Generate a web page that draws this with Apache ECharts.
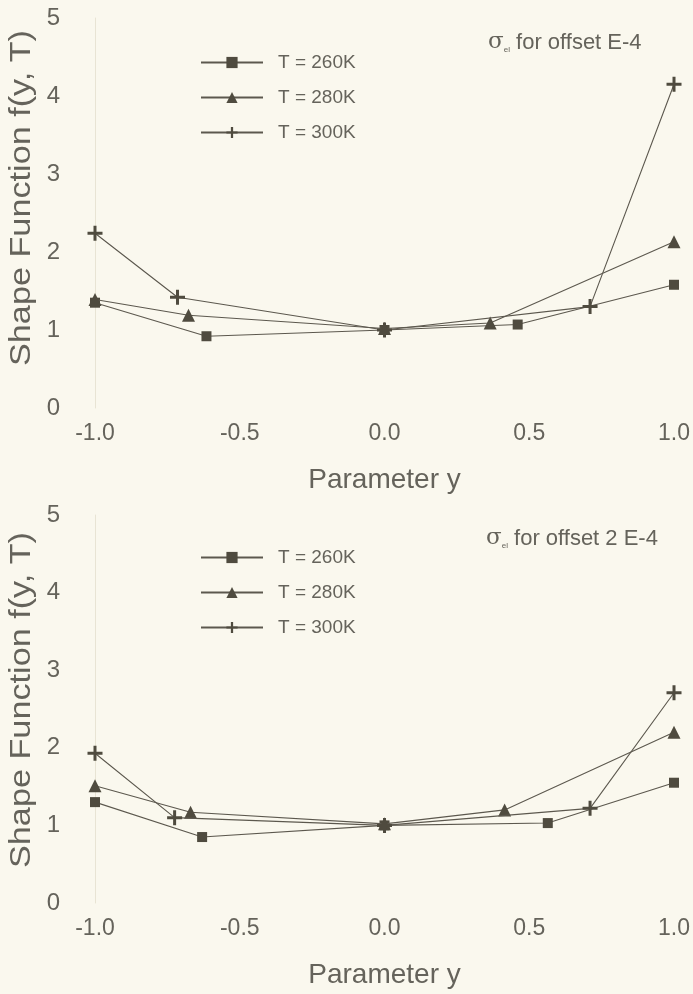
<!DOCTYPE html>
<html>
<head>
<meta charset="utf-8">
<script src="https://cdn.jsdelivr.net/npm/echarts@6/dist/echarts.min.js"></script>
<style>
  html, body { margin: 0; padding: 0; background: #faf8ee; }
  #chart { width: 693px; height: 994px; }
</style>
</head>
<body>
<div id="chart"></div>
<script>
// Shape function f(y,T) versus parameter y, for two offsets
const seriesNames = ['T = 260K', 'T = 280K', 'T = 300K'];
const xTicks = [-1.0, -0.5, 0.0, 0.5, 1.0];
const yTicks = [0, 1, 2, 3, 4, 5];

// offset E-4
const topY260 = [-1.0, -0.615, 0.0, 0.46, 1.0];
const topF260 = [1.35, 0.92, 1.0, 1.07, 1.58];
const topY280 = [-1.0, -0.677, 0.0, 0.365, 1.0];
const topF280 = [1.39, 1.19, 1.02, 1.09, 2.13];
const topY300 = [-1.0, -0.715, 0.0, 0.71, 1.0];
const topF300 = [2.24, 1.42, 1.0, 1.30, 4.15];

// offset 2 E-4
const botY260 = [-1.0, -0.63, 0.0, 0.564, 1.0];
const botF260 = [1.30, 0.85, 1.0, 1.03, 1.55];
const botY280 = [-1.0, -0.67, 0.0, 0.415, 1.0];
const botF280 = [1.51, 1.17, 1.02, 1.20, 2.20];
const botY300 = [-1.0, -0.725, 0.0, 0.71, 1.0];
const botF300 = [1.93, 1.10, 1.0, 1.22, 2.71];

const ink = '#5c584e';
const mark = '#4f4b3f';
const textCol = '#65635b';
const font = 'Liberation Sans';

const plusPath = 'path://M4,0H6V4H10V6H6V10H4V6H0V4H4Z';
const symbols = ['rect', 'triangle', plusPath];
const sizes = [10, 13, 15];

function pairs(xs, ys) { return xs.map((x, i) => [x, ys[i]]); }

function makeSeries(idx, name, xs, ys) {
  const k = seriesNames.indexOf(name);
  return {
    type: 'line', name: name, xAxisIndex: idx, yAxisIndex: idx,
    data: pairs(xs, ys),
    symbol: symbols[k], symbolSize: sizes[k], showSymbol: true,
    lineStyle: { color: ink, width: 1.1 },
    itemStyle: { color: mark, borderWidth: 0 },
    z: 3 + k, animation: false
  };
}

function xAxis(idx) {
  return {
    type: 'value', gridIndex: idx, min: -1, max: 1, interval: 0.5,
    axisLine: { show: false }, axisTick: { show: false }, splitLine: { show: false },
    axisLabel: {
      color: textCol, fontFamily: font, fontSize: 23, margin: 14,
      formatter: v => v.toFixed(1)
    },
    name: 'Parameter y', nameLocation: 'middle', nameGap: 58,
    nameTextStyle: { color: textCol, fontFamily: font, fontSize: 28 }
  };
}

function yAxis(idx) {
  return {
    type: 'value', gridIndex: idx, min: 0, max: 5, interval: 1,
    axisLine: { show: true, onZero: false, lineStyle: { color: '#e8e4d4', width: 1 } },
    axisTick: { show: false }, splitLine: { show: false },
    axisLabel: { color: textCol, fontFamily: font, fontSize: 24, margin: 35 }
  };
}

function legend(top) {
  return {
    orient: 'vertical', left: 195, top: top, itemWidth: 62, itemHeight: 14, itemGap: 16,
    data: seriesNames,
    textStyle: { color: textCol, fontFamily: font, fontSize: 19, padding: [0, 0, 0, 10] }
  };
}

// Curve annotation with a subscripted sigma
function note(text, x, y) {
  return {
    type: 'text', left: x, top: y,
    style: {
      text: '{s|σ}{sub|el} ' + text,
      fontFamily: font, fill: textCol, fontSize: 22,
      rich: {
        s: { fontSize: 23, fontFamily: 'DejaVu Serif', fill: textCol },
        sub: { fontSize: 8, fill: textCol, verticalAlign: 'bottom', padding: [12, 0, 0, 0] }
      }
    }
  };
}

// Rotated y-axis title, stretched along its length
function yTitle(cx, cy) {
  return {
    type: 'text', x: cx, y: cy, rotation: Math.PI / 2, scaleX: 1.18,
    style: {
      text: 'Shape Function f(y, T)', fontFamily: font, fontSize: 29,
      fill: textCol, align: 'center', verticalAlign: 'middle'
    }
  };
}

const chart = echarts.init(document.getElementById('chart'), null, { renderer: 'canvas' });
chart.setOption({
  backgroundColor: '#faf8ee',
  animation: false,
  grid: [
    { left: 95, right: 16, top: 18, height: 390 },
    { left: 95, right: 16, top: 515, height: 388 }
  ],
  xAxis: [xAxis(0), xAxis(1)],
  yAxis: [yAxis(0), yAxis(1)],
  legend: [legend(48), legend(543)],
  graphic: [
    note('for offset E-4', 488, 31),
    note('for offset 2 E-4', 486, 527),
    yTitle(22, 198),
    yTitle(22, 700)
  ],
  series: [
    makeSeries(0, 'T = 260K', topY260, topF260),
    makeSeries(0, 'T = 280K', topY280, topF280),
    makeSeries(0, 'T = 300K', topY300, topF300),
    makeSeries(1, 'T = 260K', botY260, botF260),
    makeSeries(1, 'T = 280K', botY280, botF280),
    makeSeries(1, 'T = 300K', botY300, botF300)
  ]
});
</script>
</body>
</html>
